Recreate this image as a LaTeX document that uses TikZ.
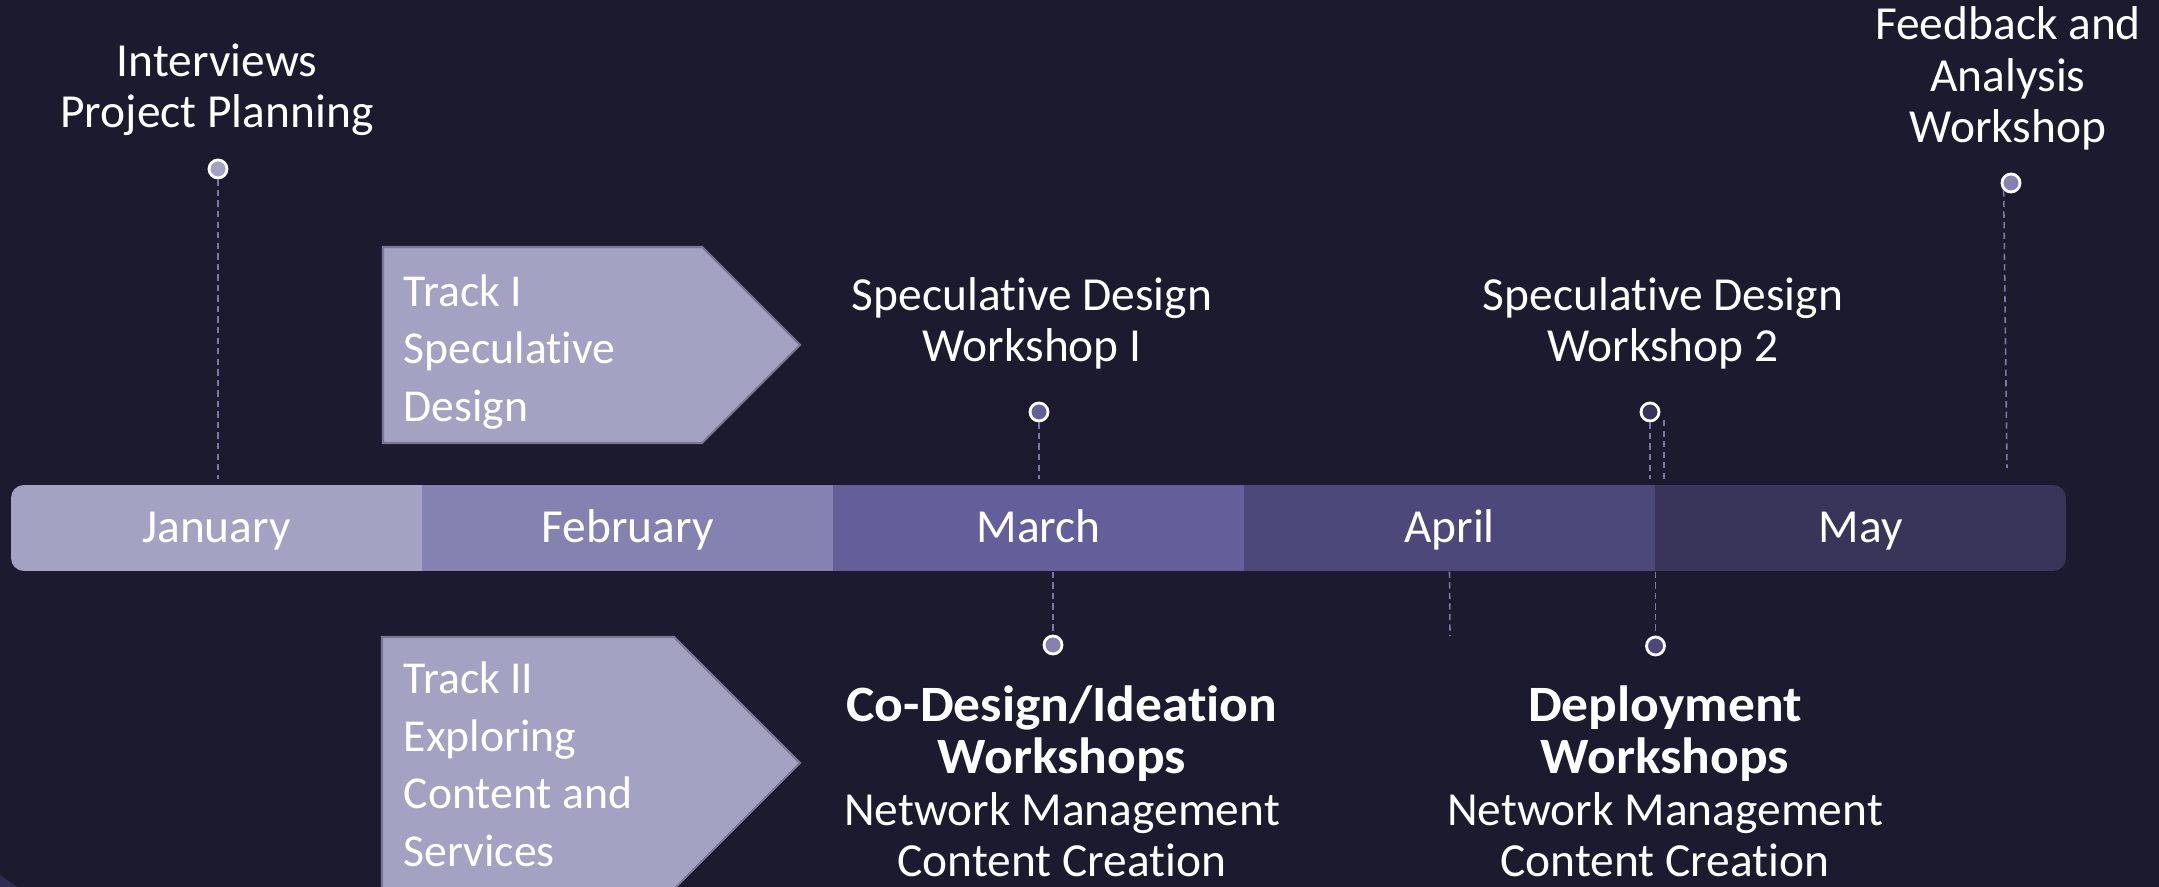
\documentclass[tikz,border=0pt]{standalone}
\usepackage{fontspec}
\setmainfont{Carlito}[Ligatures=NoCommon]
\usetikzlibrary{positioning,calc}

\definecolor{bg}{HTML}{1C1A2F}
\definecolor{jan}{HTML}{A3A2C2}
\definecolor{feb}{HTML}{8482B0}
\definecolor{mar}{HTML}{635F9A}
\definecolor{apr}{HTML}{4C4879}
\definecolor{may}{HTML}{39345A}
\definecolor{trackline}{HTML}{7A7894}
\definecolor{guide}{HTML}{7C79A6}
\definecolor{cornerfill}{HTML}{2F2B52}

\newcommand{\headline}[1]{{\fontsize{14.5}{14.7}\selectfont\bfseries\addfontfeatures{FakeStretch=1.05}#1}}

\tikzset{
  month/.style={fill=#1, minimum width=4.11cm, minimum height=0.86cm,
    inner sep=0pt, text=white, text height=11pt, text depth=2.5pt,
    font=\fontsize{13.5}{14.7}\selectfont},
  milestone/.style={align=center, text=white, inner sep=0pt, anchor=base,
    font=\fontsize{13.5}{14.7}\selectfont},
  tracktext/.style={align=left, text=white, inner sep=0pt, anchor=base west,
    font=\fontsize{13}{16.5}\selectfont},
  trackbox/.style={fill=jan, draw=trackline, line width=0.6pt},
  dot/.style={circle, fill=#1, draw=white, line width=0.8pt,
    minimum size=0.18cm, inner sep=0pt},
  guideline/.style={draw=guide, line width=0.45pt, dash pattern=on 1.8pt off 1.2pt},
}

\begin{document}
\begin{tikzpicture}
          \fill[bg] (0, 0) rectangle (21.59, 8.87);%
          \useasboundingbox (0, 0) rectangle (21.59, 8.87);%
          \fill[cornerfill] (0, 0.12) -- (0.17, 0) -- (0, 0) -- cycle;%
          % months
          \begin{scope}
            \clip[rounded corners=0.13cm] (0.11, 3.16) rectangle (20.66, 4.02);%
            \node [month=jan] (jan) at (2.165, 3.59) {January};%
            \node [month=feb] (feb) at (6.275, 3.59) {February};%
            \node [month=mar] (mar) at (10.385, 3.59) {March};%
            \node [month=apr] (apr) at (14.495, 3.59) {April};%
            \node [month=may] (may) at (18.605, 3.59) {May};%
          \end{scope}
          % tracks
          \draw[trackbox] (3.83, 4.44) -- (3.83, 6.40) -- (7.02, 6.40)
            -- (8.00, 5.42) -- (7.02, 4.44) -- cycle;%
          \node [tracktext] (track1) at (4.03, 4.65) {Track I\\%
            Speculative\\Design};%
          \draw[trackbox] (3.82, -0.02) -- (3.82, 2.50) -- (6.74, 2.50)
            -- (8.00, 1.24) -- (6.74, -0.02) -- cycle;%
          \node [tracktext] (track2) at (4.03, 0.20) {Track II\\%
            Exploring\\Content and\\Services};%
          % above the months
          \node [milestone] (interviews) at (2.17, 7.59) {Interviews\\%
            Project Planning};%
          \node [dot=jan] (jandot) at (2.18, 7.18) {};%
          \draw[guideline, shorten >=0.5mm] (jandot.south) -- (jandot.south |- jan.north);%
          \node [milestone] (ws1) at (10.32, 5.25) {Speculative Design\\%
            Workshop I};%
          \node [dot=mar] (ws1dot) at (10.39, 4.75) {};%
          \draw[guideline, shorten >=0.5mm] (ws1dot.south) -- (ws1dot.south |- mar.north);%
          \node [milestone] (ws2) at (16.63, 5.25) {Speculative Design\\%
            Workshop 2};%
          \node [dot=may] (ws2dot) at (16.50, 4.75) {};%
          \coordinate (ws2side) at (16.64, 4.67);%
          \draw[guideline, shorten >=0.5mm] (ws2dot.south) -- (ws2dot.south |- may.north);%
          \draw[guideline, shorten >=0.5mm] (ws2side) -- (ws2side |- may.north);%
          \node [milestone] (feedback) at (20.08, 7.44) {Feedback and\\%
            Analysis\\Workshop};%
          \node [dot=feb] (fbdot) at (20.11, 7.04) {};%
          \coordinate (fbend) at (20.07, 4.19);%
          \draw[guideline] (fbdot.225) -- (fbend);%
          % below the months
          \node [dot=feb] (codot) at (10.53, 2.42) {};%
          \draw[guideline] (codot.north |- mar.south) -- (codot.north);%
          \node [milestone] (codesign) at (10.62, 0.10) {\headline{Co-Design/Ideation}\\%
            \headline{Workshops}\\Network Management\\Content Creation};%
          \coordinate (aprtick) at (14.50, 2.51);%
          \draw[guideline] (apr.south) -- (aprtick);%
          \node [dot=apr] (depdot) at (16.555, 2.41) {};%
          \draw[guideline] (depdot.north |- may.south) -- (depdot.north);%
          \node [milestone] (deploy) at (16.65, 0.10) {\headline{Deployment}\\%
            \headline{Workshops}\\Network Management\\Content Creation};%
        \end{tikzpicture}
\end{document}
